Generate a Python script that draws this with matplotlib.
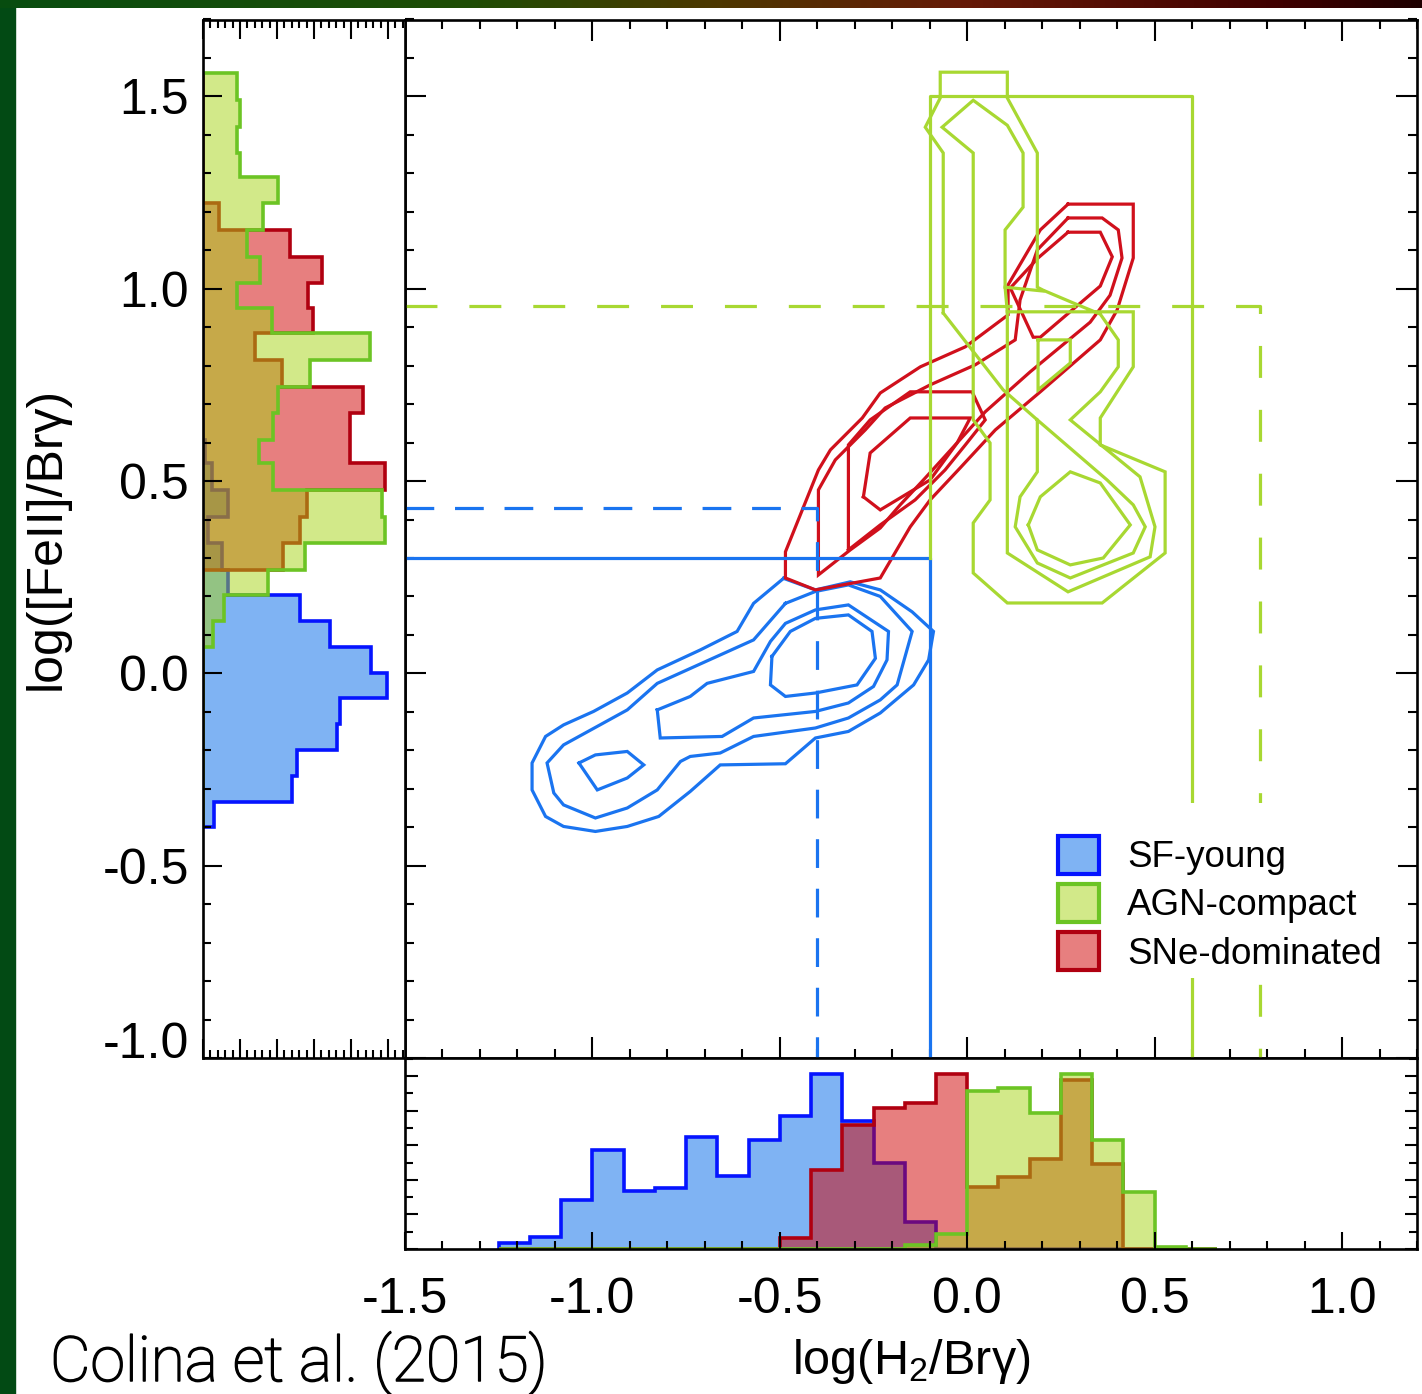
import numpy as np
import matplotlib
matplotlib.use("Agg")
import matplotlib.pyplot as plt
import matplotlib.patheffects as pe
from matplotlib.patches import Patch, Rectangle
from matplotlib.ticker import MultipleLocator
from matplotlib.colors import LinearSegmentedColormap

plt.rcParams['font.family'] = ['Liberation Sans', 'DejaVu Sans']
plt.rcParams['mathtext.fontset'] = 'custom'
plt.rcParams['mathtext.rm'] = 'Liberation Sans'
plt.rcParams['mathtext.it'] = 'Liberation Sans:italic'

# ---------------- data ----------------
class_names = ["SF-young", "AGN-compact", "SNe-dominated"]

# log([FeII]/Brg) histogram (left panel)
feii_edges = [-0.400, -0.335, -0.267, -0.200, -0.131, -0.065, 0.000, 0.068, 0.136,
              0.204, 0.269, 0.338, 0.407, 0.477, 0.546, 0.607, 0.676, 0.745, 0.815,
              0.884, 0.949, 1.015, 1.083, 1.152, 1.222, 1.291, 1.352, 1.421, 1.490, 1.561]
feii_sf = [0.30, 2.40, 2.55, 3.63, 3.70, 4.96, 4.53, 3.43, 2.62, 0.68, 0.51, 0.14, 0.68,
           0.24, 0.05, 0, 0, 0, 0, 0, 0, 0, 0, 0, 0, 0, 0, 0, 0]
feii_agn = [0, 0, 0, 0, 0, 0, 0, 0.27, 0.57, 1.76, 2.76, 4.92, 4.83, 1.90, 1.50, 1.90,
            2.04, 2.89, 4.51, 1.86, 0.91, 1.54, 1.18, 1.63, 2.04, 1.00, 0.91, 1.00, 0.91]
feii_sne = [0, 0, 0, 0, 0, 0, 0, 0, 0, 0, 2.17, 2.62, 2.80, 4.92, 3.97, 3.97, 4.33,
            2.13, 1.41, 2.98, 2.85, 3.21, 2.35, 0.42, 0, 0, 0, 0, 0]

# log(H2/Brg) histogram (bottom panel)
h2_edges = [-1.2500, -1.1667, -1.0833, -1.0000, -0.9167, -0.8333, -0.7500, -0.6667,
            -0.5833, -0.5000, -0.4167, -0.3333, -0.2500, -0.1667, -0.0833, 0.0000,
            0.0833, 0.1667, 0.2500, 0.3333, 0.4167, 0.5000, 0.5833, 0.6667]
h2_sf = [0.37, 0.68, 2.84, 5.70, 3.38, 3.52, 6.47, 4.23, 6.32, 7.67, 10.09, 7.42, 4.97,
         1.58, 0, 0, 0, 0, 0, 0, 0, 0, 0]
h2_sne = [0, 0, 0, 0, 0, 0, 0, 0, 0, 0.62, 4.58, 7.19, 8.15, 8.44, 10.09, 3.57, 4.19,
          5.22, 9.76, 4.93, 0, 0, 0]
h2_agn = [0, 0, 0, 0, 0, 0, 0, 0, 0, 0, 0, 0, 0, 0.23, 0.85, 9.14, 9.31, 7.86, 10.09,
          6.28, 3.29, 0.14, 0]

# density contours (x = log H2/Brg, y = log [FeII]/Brg)
sf_contours = [
    [(-0.490, 0.247), (-0.405, 0.217), (-0.312, 0.238), (-0.232, 0.217), (-0.147, 0.160),
     (-0.090, 0.109), (-0.103, 0.035), (-0.143, -0.030), (-0.232, -0.103), (-0.317, -0.151),
     (-0.405, -0.168), (-0.485, -0.235), (-0.659, -0.238), (-0.739, -0.307), (-0.823, -0.372),
     (-0.907, -0.398), (-0.992, -0.411), (-1.077, -0.398), (-1.125, -0.372), (-1.161, -0.303),
     (-1.161, -0.233), (-1.125, -0.164), (-1.077, -0.134), (-0.997, -0.099), (-0.907, -0.051),
     (-0.827, 0.009), (-0.712, 0.061), (-0.614, 0.109), (-0.570, 0.182), (-0.490, 0.247)],
    [(-0.485, 0.182), (-0.570, 0.087), (-0.827, -0.026), (-0.907, -0.095), (-1.077, -0.186),
     (-1.121, -0.233), (-1.103, -0.311), (-1.077, -0.342), (-0.992, -0.376), (-0.907, -0.350),
     (-0.827, -0.303), (-0.765, -0.229), (-0.739, -0.216), (-0.659, -0.207), (-0.570, -0.164),
     (-0.405, -0.142), (-0.317, -0.116), (-0.232, -0.069), (-0.187, -0.030), (-0.147, 0.109),
     (-0.232, 0.200), (-0.317, 0.230), (-0.405, 0.213), (-0.485, 0.182)],
    [(-0.827, -0.095), (-0.739, -0.060), (-0.694, -0.026), (-0.570, 0.005), (-0.525, 0.083),
     (-0.485, 0.130), (-0.405, 0.165), (-0.317, 0.178), (-0.210, 0.109), (-0.214, 0.035),
     (-0.250, -0.034), (-0.317, -0.077), (-0.405, -0.099), (-0.570, -0.116), (-0.654, -0.164),
     (-0.819, -0.168), (-0.827, -0.095)],
    [(-0.521, 0.044), (-0.472, 0.109), (-0.405, 0.143), (-0.317, 0.152), (-0.254, 0.109),
     (-0.245, 0.039), (-0.294, -0.030), (-0.405, -0.051), (-0.485, -0.060), (-0.525, -0.030),
     (-0.521, 0.044)],
    [(-1.036, -0.233), (-0.992, -0.212), (-0.907, -0.203), (-0.863, -0.238), (-0.907, -0.272),
     (-0.987, -0.303), (-1.036, -0.233)],
]

sne_contours = [
    [(0.269, 1.220), (0.443, 1.220), (0.443, 1.080), (0.400, 0.945), (0.355, 0.867),
     (0.195, 0.732), (0.075, 0.633), (-0.019, 0.534), (-0.099, 0.451), (-0.152, 0.381),
     (-0.232, 0.248), (-0.405, 0.217), (-0.485, 0.248), (-0.485, 0.316), (-0.397, 0.529),
     (-0.365, 0.581), (-0.280, 0.664), (-0.232, 0.729), (-0.125, 0.797), (-0.005, 0.849),
     (0.109, 0.932), (0.109, 1.010), (0.195, 1.153), (0.269, 1.220)],
    [(0.269, 1.184), (0.360, 1.184), (0.403, 1.153), (0.413, 1.080), (0.381, 0.983),
     (0.328, 0.913), (0.168, 0.784), (0.048, 0.680), (-0.032, 0.594), (-0.112, 0.508),
     (-0.179, 0.438), (-0.232, 0.378), (-0.312, 0.321), (-0.397, 0.256), (-0.397, 0.477),
     (-0.352, 0.555), (-0.272, 0.633), (-0.219, 0.690), (-0.099, 0.750), (0.021, 0.802),
     (0.128, 0.867), (0.141, 0.971), (0.187, 1.101), (0.269, 1.184)],
    [(0.269, 1.147), (0.355, 1.147), (0.387, 1.083), (0.355, 1.007), (0.195, 0.874),
     (0.176, 0.874), (0.115, 1.002), (0.189, 1.080), (0.269, 1.147)],
    [(-0.317, 0.321), (-0.317, 0.594), (-0.259, 0.659), (-0.152, 0.732), (0.013, 0.732),
     (0.048, 0.659), (-0.005, 0.594), (-0.059, 0.529), (-0.139, 0.451), (-0.232, 0.386),
     (-0.317, 0.321)],
    [(-0.277, 0.459), (-0.259, 0.573), (-0.152, 0.664), (0.008, 0.664), (-0.027, 0.599),
     (-0.099, 0.503), (-0.232, 0.425), (-0.277, 0.459)],
]

agn_contours = [
    [(-0.064, 0.937), (-0.064, 1.353), (-0.112, 1.420), (-0.072, 1.496), (-0.072, 1.563),
     (0.107, 1.563), (0.107, 1.496), (0.187, 1.353), (0.187, 1.004), (0.203, 0.996),
     (0.283, 0.963), (0.355, 0.934), (0.403, 0.867), (0.403, 0.797), (0.355, 0.732),
     (0.275, 0.659), (0.363, 0.589), (0.461, 0.511), (0.501, 0.381), (0.488, 0.303),
     (0.269, 0.212), (0.107, 0.313), (0.107, 0.940), (0.101, 1.004), (0.101, 1.153),
     (0.149, 1.212), (0.149, 1.353), (0.107, 1.425), (0.016, 1.490), (-0.067, 1.420),
     (0.016, 1.353), (0.016, 0.659), (0.061, 0.599), (0.061, 0.451), (0.016, 0.391),
     (0.016, 0.261), (0.107, 0.183), (0.360, 0.183), (0.528, 0.313), (0.528, 0.524),
     (0.355, 0.594), (0.355, 0.664), (0.443, 0.797), (0.443, 0.940), (0.107, 0.940)],
    [(0.101, 1.004), (0.203, 0.994)],
    [(-0.064, 0.937), (0.096, 0.737), (0.187, 0.659), (0.187, 0.524), (0.141, 0.459),
     (0.128, 0.381), (0.187, 0.287), (0.275, 0.248), (0.443, 0.313), (0.475, 0.381),
     (0.443, 0.438), (0.373, 0.503), (0.187, 0.659)],
    [(0.163, 0.386), (0.195, 0.459), (0.275, 0.524), (0.355, 0.495), (0.435, 0.386),
     (0.363, 0.300), (0.275, 0.282), (0.187, 0.321), (0.163, 0.386)],
    [(0.189, 0.867), (0.275, 0.867), (0.275, 0.807), (0.189, 0.737), (0.189, 0.867)],
]

# class boundaries
sf_solid = ([-1.5, -0.1, -0.1], [0.30, 0.30, -1.0])
sf_dashed = ([-1.5, -0.4, -0.4], [0.43, 0.43, -1.0])
agn_solid = ([-0.1, -0.1, 0.6, 0.6], [0.30, 1.5, 1.5, -1.0])
agn_dashed = ([-1.5, 0.78, 0.78], [0.955, 0.955, -1.0])

# ---------------- style ----------------
sf_line, sne_line, agn_line = '#1a74f0', '#d0101c', '#a8d832'
sf_fill, sne_fill, agn_fill = (0.0, 0.41, 0.91, 0.5), (0.82, 0.0, 0.0, 0.5), (0.655, 0.83, 0.08, 0.5)
sf_edge, sne_edge, agn_edge = '#0514ff', '#b00010', '#6cc424'

W, H = 1422, 1394
fig = plt.figure(figsize=(W / 100, H / 100), dpi=100)

# slide decoration: dark green side band and coloured top strip
fig.add_artist(Rectangle((0, 0), 15 / W, 1, transform=fig.transFigure,
                         color='#024a14', zorder=0))
bar = fig.add_axes([0, 1 - 8 / H, 1, 8 / H])
strip = LinearSegmentedColormap.from_list('strip', [
    (0.0, (0.03, 0.30, 0.06)), (0.33, (0.12, 0.30, 0.02)), (0.5, (0.30, 0.22, 0.0)),
    (0.68, (0.40, 0.10, 0.03)), (0.9, (0.25, 0.0, 0.0)), (1.0, (0.12, 0.0, 0.0))])
bar.imshow(np.linspace(0, 1, 256)[None, :], aspect='auto', cmap=strip)
bar.axis('off')

L, R, T, B = 405, 1417, 19.5, 1058
ax = fig.add_axes([L / W, 1 - B / H, (R - L) / W, (B - T) / H])
axl = fig.add_axes([203 / W, 1 - B / H, (L - 203) / W, (B - T) / H])
axb = fig.add_axes([L / W, 1 - 1249 / H, (R - L) / W, (1249 - B) / H])

for a in (ax, axl, axb):
    for s in a.spines.values():
        s.set_linewidth(1.9)

xlim = (-1.5, 1.2)
ylim = (-1.0, 1.70)

# ---- main panel ----
ax.set_xlim(*xlim)
ax.set_ylim(*ylim)
ax.xaxis.set_major_locator(MultipleLocator(0.5))
ax.xaxis.set_minor_locator(MultipleLocator(0.1))
ax.yaxis.set_major_locator(MultipleLocator(0.5))
ax.yaxis.set_minor_locator(MultipleLocator(0.1))
ax.tick_params(which='both', direction='in', top=True, bottom=True, left=True, right=True,
               labelbottom=False, labelleft=False, width=1.5)
ax.tick_params(which='major', length=15)
ax.tick_params(which='minor', length=6.5)

for poly, col in [(c, sf_line) for c in sf_contours] + \
                 [(c, sne_line) for c in sne_contours] + \
                 [(c, agn_line) for c in agn_contours]:
    xs, ys = zip(*poly)
    ax.plot(xs, ys, color=col, lw=2.3, solid_joinstyle='miter', zorder=2)

ax.plot(*sf_solid, color=sf_line, lw=2.3, zorder=3)
ax.plot(*sf_dashed, color=sf_line, lw=2.3, dashes=(9, 6.5), zorder=3)
ax.plot(*agn_solid, color=agn_line, lw=2.3, zorder=3)
ax.plot(*agn_dashed, color=agn_line, lw=2.3, dashes=(10, 10), zorder=3)

# white panel behind the legend
ax.add_patch(Rectangle(((1045 - L) / (R - L), (B - 978) / (B - T)),
                       (1398 - 1045) / (R - L), (978 - 803) / (B - T),
                       transform=ax.transAxes, facecolor='white', edgecolor='none',
                       zorder=4))
handles = [Patch(facecolor=f, edgecolor=e, lw=3) for f, e in
           [(sf_fill, sf_edge), (agn_fill, agn_edge), (sne_fill, sne_edge)]]
leg = ax.legend(handles, class_names, loc='upper left',
                bbox_to_anchor=((1058 - L) / (R - L), (B - 836) / (B - T)),
                borderaxespad=0, fontsize=26.5, frameon=False,
                handlelength=1.12, handleheight=1.2, handletextpad=0.75,
                labelspacing=0.24, borderpad=0)
leg.set_zorder(5)

# ---- left histogram ----
axl.set_ylim(*ylim)
axl.set_xlim(0, (L - 203) / 37)
for vals, fc, ec in [(feii_sf, sf_fill, sf_edge), (feii_sne, sne_fill, sne_edge),
                     (feii_agn, agn_fill, agn_edge)]:
    axl.stairs(vals, feii_edges, orientation='horizontal', fill=True, color=fc, lw=0)
    axl.stairs(vals, feii_edges, orientation='horizontal', fill=False, color=ec, lw=2.6)
axl.yaxis.set_major_locator(MultipleLocator(0.5))
axl.yaxis.set_minor_locator(MultipleLocator(0.1))
axl.xaxis.set_major_locator(MultipleLocator(1))
axl.xaxis.set_minor_locator(MultipleLocator(0.2))
axl.tick_params(which='both', direction='in', top=True, bottom=True, left=True,
                right=False, labelbottom=False, width=1.5)
axl.tick_params(which='major', length=14, labelsize=36, pad=10)
axl.tick_params(which='minor', length=6)
axl.set_yticks([1.5, 1.0, 0.5, 0.0, -0.5, -1.0])
axl.set_yticklabels(['1.5', '1.0', '0.5', '0.0', '-0.5', '-1.0'])
axl.get_yticklabels()[-1].set_verticalalignment('baseline')
axl.set_ylabel('log([FeII]/Brγ)', fontsize=36, labelpad=24)

# ---- bottom histogram ----
axb.set_xlim(*xlim)
axb.set_ylim(0, (1249 - B) / 17.3)
for vals, fc, ec in [(h2_sf, sf_fill, sf_edge), (h2_sne, sne_fill, sne_edge),
                     (h2_agn, agn_fill, agn_edge)]:
    axb.stairs(vals, h2_edges, fill=True, color=fc, lw=0)
    axb.stairs(vals, h2_edges, fill=False, color=ec, lw=2.6)
axb.xaxis.set_major_locator(MultipleLocator(0.5))
axb.xaxis.set_minor_locator(MultipleLocator(0.1))
axb.yaxis.set_major_locator(MultipleLocator(2))
axb.yaxis.set_minor_locator(MultipleLocator(1))
axb.tick_params(which='both', direction='in', top=False, bottom=True, left=True,
                right=True, labelleft=False, width=1.5)
axb.tick_params(axis='x', which='major', length=12, labelsize=36, pad=20)
axb.tick_params(axis='x', which='minor', length=6)
axb.tick_params(axis='y', which='major', length=9)
axb.tick_params(axis='y', which='minor', length=6)
axb.set_xticks([-1.5, -1.0, -0.5, 0.0, 0.5, 1.0])
axb.set_xticklabels(['-1.5', '-1.0', '-0.5', '0.0', '0.5', '1.0'])
axb.set_xlabel('log(H$_2$/Brγ)', fontsize=35, labelpad=10)

fig.text(50 / W, 1 - 1381 / H, 'Colina et al. (2015)', fontsize=45,
         family=['Roboto', 'Liberation Sans'], fontweight='light', ha='left', va='baseline',
         path_effects=[pe.withStroke(linewidth=1.1, foreground='black')])

fig.savefig('out.png', dpi=100)
